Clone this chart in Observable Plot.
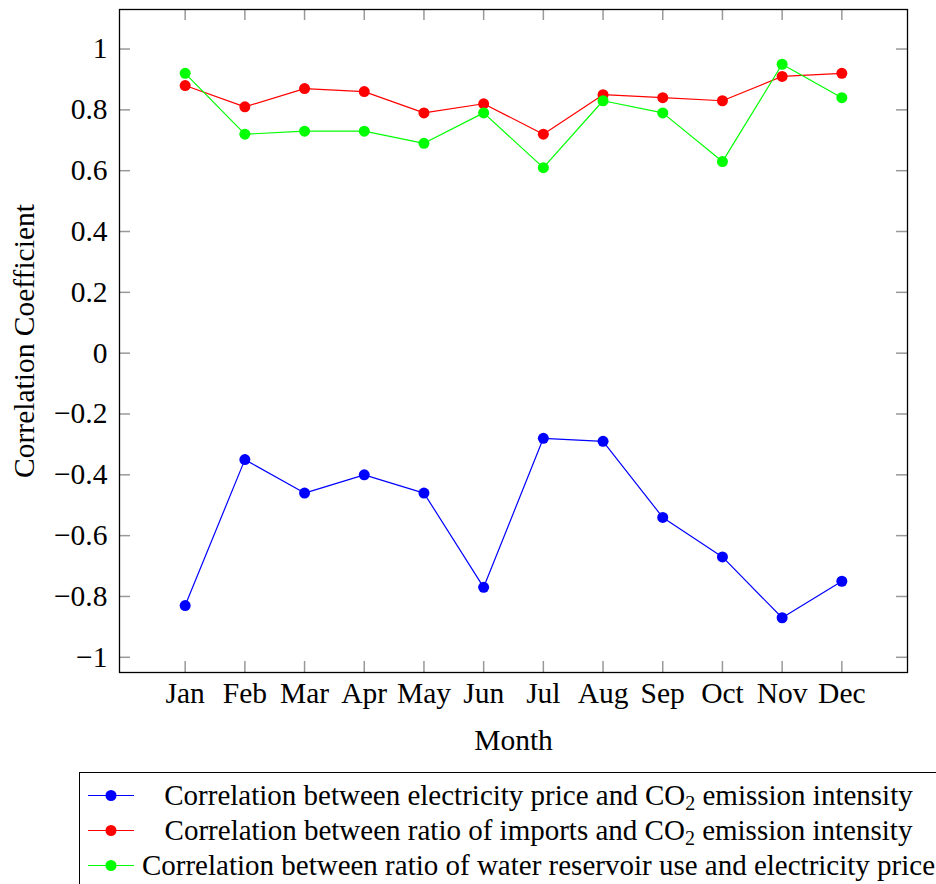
<!DOCTYPE html>
<html>
<head>
<meta charset="utf-8">
<script src="https://cdn.jsdelivr.net/npm/d3@7"></script>
<script src="https://cdn.jsdelivr.net/npm/@observablehq/plot@0.6"></script>
<style>
  html, body { margin: 0; padding: 0; background: #fff; overflow: hidden; }
  body { width: 936px; height: 884px; position: relative; font-family: "Liberation Serif", "Times New Roman", serif; }
  #chart { position: absolute; left: 0; top: 0; }
  #legend { position: absolute; left: 79px; top: 772px; width: 900px; height: 140px;
            border-left: 1.3px solid #000; border-top: 1.3px solid #000; box-sizing: border-box; }
  .row { position: absolute; left: 0; height: 35px; width: 880px; }
  .row svg { position: absolute; left: 0; top: 0; }
  .row .txt { position: absolute; left: 60px; width: 797px; text-align: center; font-size: 29px;
              font-family: "Liberation Serif", serif;
              line-height: 35px; top: 0; white-space: nowrap; color: #000; }
  sub { font-size: 20px; vertical-align: -5px; line-height: 0; }
</style>
</head>
<body>
<div id="chart"></div>
<div id="legend"></div>
<script>
const months = ["Jan","Feb","Mar","Apr","May","Jun","Jul","Aug","Sep","Oct","Nov","Dec"];
const priceCO2 = [-0.83,-0.35,-0.46,-0.40,-0.46,-0.77,-0.28,-0.29,-0.54,-0.67,-0.87,-0.75];
const importsCO2 = [0.88,0.81,0.87,0.86,0.79,0.82,0.72,0.85,0.84,0.83,0.91,0.92];
const waterPrice = [0.92,0.72,0.73,0.73,0.69,0.79,0.61,0.83,0.79,0.63,0.95,0.84];
const seriesNames = ["price","imports","water"];
const seriesColors = ["#0000ff","#ff0000","#00ff00"];
const legendLabels = [
  "Correlation between electricity price and CO<sub>2</sub> emission intensity",
  "Correlation between ratio of imports and CO<sub>2</sub> emission intensity",
  "Correlation between ratio of water reservoir use and electricity price"
];
const yTicks = [-1,-0.8,-0.6,-0.4,-0.2,0,0.2,0.4,0.6,0.8,1];
const yDomain = [-1.05, 1.13];

const seriesValues = [priceCO2, importsCO2, waterPrice];
const marks = [];
seriesNames.forEach((s, i) => {
  const rows = months.map((m, j) => ({month: m, value: seriesValues[i][j], series: s}));
  marks.push(Plot.line(rows, {x: "month", y: "value", stroke: seriesColors[i], strokeWidth: 1.2}));
  marks.push(Plot.dot(rows, {x: "month", y: "value", fill: seriesColors[i], r: 5.5, stroke: "none"}));
});

const W = 936, H = 760, mT = 9, mR = 29, mB = 88, mL = 119;
const fw = W - mL - mR, fh = H - mT - mB, tk = 11;
const FS = 29.5;
const serif = "'Liberation Serif', 'Times New Roman', serif";

const chart = Plot.plot({
  width: W, height: H,
  marginTop: mT, marginRight: mR, marginBottom: mB, marginLeft: mL,
  style: {fontFamily: serif, fontSize: FS + "px", background: "#fff", color: "#000"},
  x: {type: "point", domain: months, padding: 1.1, round: false, axis: null},
  y: {domain: yDomain, axis: null},
  marks: [
    Plot.ruleX(months, {x: d => d, stroke: "#999", strokeWidth: 1.5, insetBottom: fh - tk}),
    Plot.ruleX(months, {x: d => d, stroke: "#999", strokeWidth: 1.5, insetTop: fh - tk}),
    Plot.ruleY(yTicks, {y: d => d, stroke: "#999", strokeWidth: 1.5, insetRight: fw - tk}),
    Plot.ruleY(yTicks, {y: d => d, stroke: "#999", strokeWidth: 1.5, insetLeft: fw - tk}),
    Plot.axisX(months, {anchor: "bottom", tickSize: 0, tickPadding: 10, fontSize: FS, fontFamily: serif, label: null}),
    Plot.axisY(yTicks, {anchor: "left", tickSize: 0, tickPadding: 12, fontSize: FS, fontFamily: serif, label: null,
      tickFormat: d => (d < 0 ? "\u2212" : "") + String(Math.abs(+d.toFixed(1)))}),
    Plot.text(["Month"], {frameAnchor: "bottom", dy: 68, lineAnchor: "middle", textAnchor: "middle", fontSize: FS, fontFamily: serif, fill: "#000"}),
    Plot.text(["Correlation Coefficient"], {frameAnchor: "left", dx: -95, rotate: -90, textAnchor: "middle", lineAnchor: "middle", fontSize: FS, fontFamily: serif, fill: "#000"}),
    ...marks,
    Plot.frame({stroke: "#000", strokeWidth: 1.3})
  ]
});
document.getElementById("chart").appendChild(chart);

const legend = document.getElementById("legend");
seriesNames.forEach((s, i) => {
  const row = document.createElement("div");
  row.className = "row";
  row.style.top = (5 + i * 35) + "px";
  row.innerHTML = `<svg width="60" height="35"><line x1="8" x2="54" y1="17.5" y2="17.5" stroke="${seriesColors[i]}" stroke-width="1.2"/><circle cx="31" cy="17.5" r="5.5" fill="${seriesColors[i]}"/></svg><div class="txt">${legendLabels[i]}</div>`;
  legend.appendChild(row);
});
</script>
</body>
</html>
